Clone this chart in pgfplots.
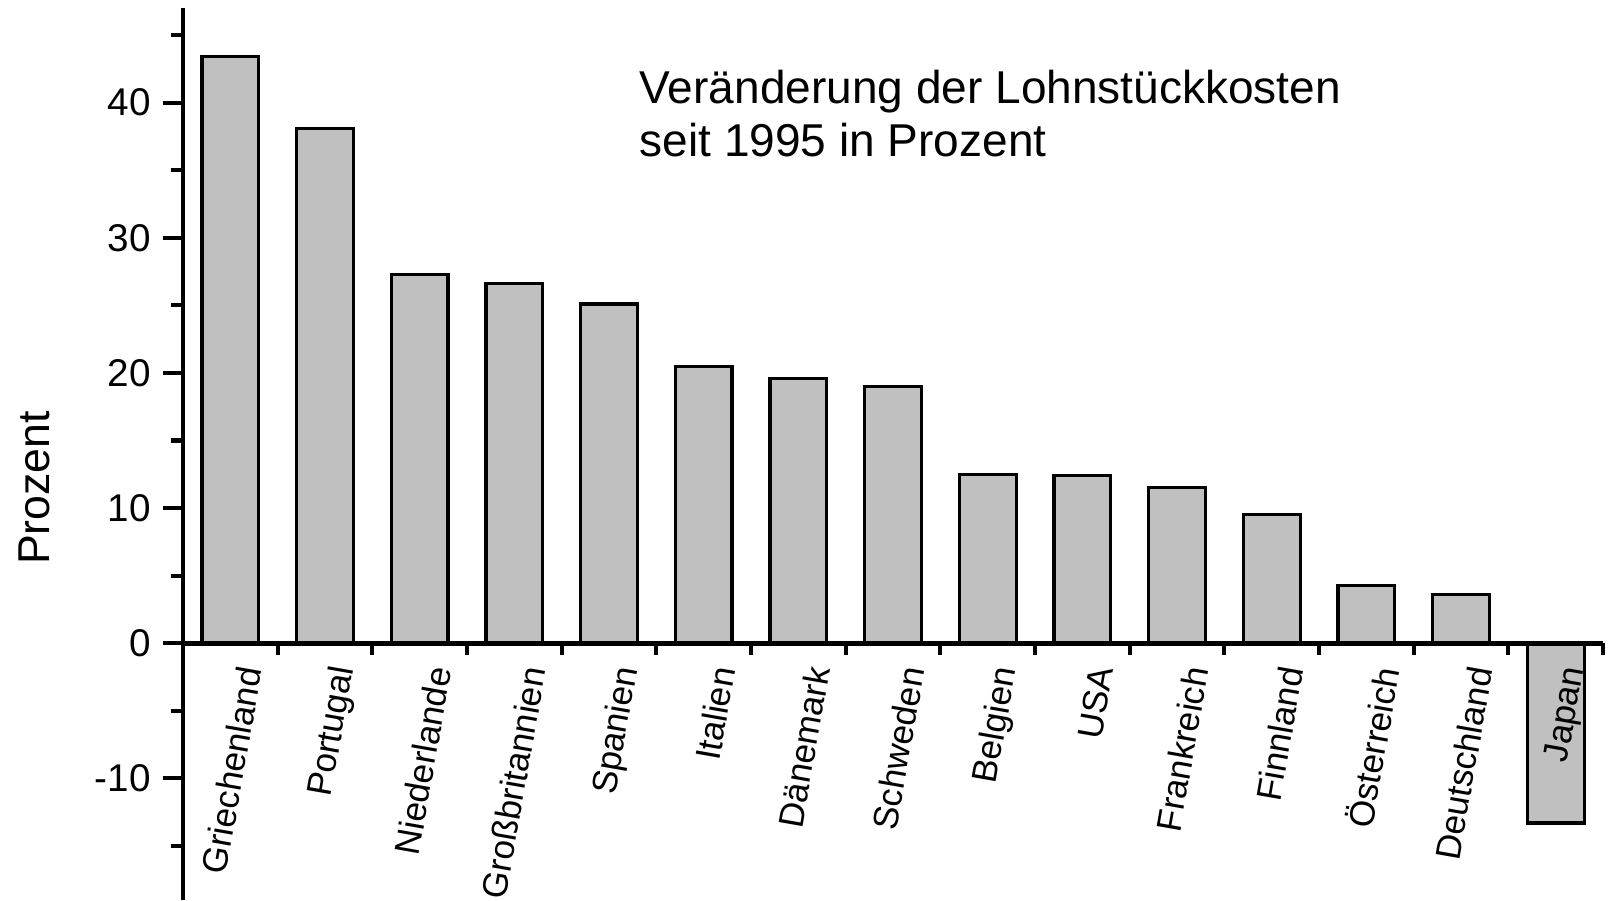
\documentclass[border=0pt]{standalone}
\usepackage{pgfplots}
\pgfplotsset{compat=1.18}
\usepackage{fontspec}
\setmainfont{Liberation Sans}
\definecolor{barfill}{HTML}{C0C0C0}
\begin{document}
\begin{tikzpicture}
\begin{axis}[
  at={(1.83cm,0)}, anchor=south west,
  scale only axis, width=14.2cm, height=8.92cm,
  xmin=-0.5, xmax=14.5, ymin=-19, ymax=47,
  axis x line=middle, axis y line=left,
  axis line style={-, line width=1.3pt},
  axis on top, clip=false,
  tick align=outside,
  major tick length=0.2cm, minor tick length=0.12cm,
  every tick/.style={line width=1.2pt, black},
  xtick={0,...,14},
  xticklabels={Griechenland,Portugal,Niederlande,Großbritannien,Spanien,Italien,Dänemark,Schweden,Belgien,USA,Frankreich,Finnland,Österreich,Deutschland,Japan},
  major x tick style={draw=none},
  minor xtick={0.5,1.5,...,14.5},
  xticklabel style={rotate=80, anchor=east, font=\fontsize{10}{12}\selectfont, inner sep=0pt, yshift=-0.2cm},
  ytick={-10,0,10,20,30,40},
  yticklabels={-10,0,10,20,30,40},
  minor ytick={-15,-5,5,15,25,35,45},
  yticklabel style={font=\fontsize{11}{13}\selectfont},
  ylabel={Prozent},
  ylabel style={at={(rel axis cs:-0.105,0.462)}, anchor=center, font=\fontsize{12.7}{15}\selectfont},
]
\addplot[ybar, bar width=0.6, fill=barfill, draw=black, line width=0.9pt] coordinates {
(0,43.4) (1,38.1) (2,27.3) (3,26.6) (4,25.1) (5,20.5) (6,19.6) (7,19.0)
(8,12.5) (9,12.4) (10,11.5) (11,9.5) (12,4.3) (13,3.6) (14,-13.3)
};
\node[anchor=base west, inner sep=0pt, font=\fontsize{13.1}{15}\selectfont] at (axis cs:4.317,39.9) {Veränderung der Lohnstückkosten};
\node[anchor=base west, inner sep=0pt, font=\fontsize{13.1}{15}\selectfont] at (axis cs:4.317,36.0) {seit 1995 in Prozent};
\end{axis}
\pgfresetboundingbox
\path (0,0) rectangle (16.11cm,9cm);
\end{tikzpicture}
\end{document}
